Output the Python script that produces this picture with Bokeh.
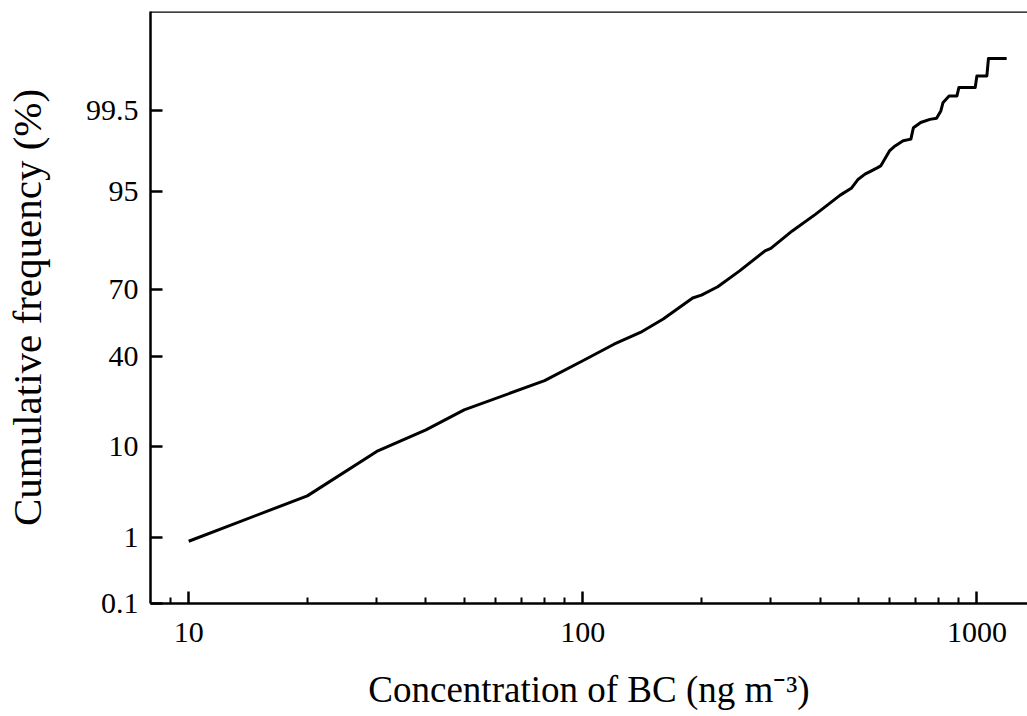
import math
from bokeh.plotting import figure
from bokeh.models import FixedTicker, Span, Range1d
from bokeh.embed import file_html
from bokeh.resources import INLINE

# ---- data (BC concentration bins, cumulative %) ----
conc = [10, 20, 30, 40, 50, 80, 100, 120, 140, 160,
        190, 200, 220, 250, 290, 300, 340, 390, 450, 480,
        500, 520, 540, 560, 570, 600, 620, 650, 680, 690,
        710, 720, 760, 790, 810, 820, 850, 890, 900, 990,
        1000, 1060, 1070, 1190]
cum_pct = [0.88, 3.2, 9.0, 13.7, 19.4, 29.9, 38.3, 45.7, 51.1, 57.2,
           66.4, 67.6, 71.0, 76.9, 83.3, 84.0, 88.4, 91.75, 94.6, 95.4,
           96.33, 96.77, 97.04, 97.28, 97.40, 98.28, 98.51, 98.72, 98.78, 99.14,
           99.23, 99.27, 99.34, 99.365, 99.5, 99.62, 99.70, 99.70, 99.777, 99.777,
           99.855, 99.855, 99.926, 99.926]

y_tick_pct = [0.1, 1, 10, 40, 70, 95, 99.5]
y_tick_labels = ["0.1", "1", "10", "40", "70", "95", "99.5"]
x_tick_vals = [10, 100, 1000]
x_tick_labels = ["10", "100", "1000"]

x_title = "Concentration of BC (ng m\u207b\u00b3)"
y_title = "Cumulative frequency (%)"


def norm_ppf(p):
    lo, hi = -10.0, 10.0
    for _ in range(200):
        mid = 0.5 * (lo + hi)
        if 0.5 * (1.0 + math.erf(mid / math.sqrt(2.0))) < p:
            lo = mid
        else:
            hi = mid
    return 0.5 * (lo + hi)


z_vals = [norm_ppf(v / 100.0) for v in cum_pct]
y_ticks = [round(norm_ppf(v / 100.0), 6) for v in y_tick_pct]

X_START, X_END = 8.0, 1344.0
Y_START, Y_END = norm_ppf(0.001), norm_ppf(0.9999)

W, H = 1027, 716
FONT = "Liberation Serif"

p = figure(width=W, height=H, x_axis_type="log",
           x_range=Range1d(X_START, X_END), y_range=Range1d(Y_START, Y_END),
           output_backend="svg", toolbar_location=None,
           min_border_left=148, min_border_right=0,
           min_border_top=11, min_border_bottom=113)

p.background_fill_color = "white"
p.border_fill_color = "white"
p.outline_line_color = None
p.grid.visible = False

minor = [9] + [m * 10 ** d for d in (1, 2) for m in range(2, 10)]
p.xaxis.ticker = FixedTicker(ticks=x_tick_vals, minor_ticks=minor)
p.xaxis.major_label_overrides = dict(zip(x_tick_vals, x_tick_labels))
p.yaxis.ticker = FixedTicker(ticks=y_ticks, minor_ticks=[])
p.yaxis.major_label_overrides = dict(zip(y_ticks, y_tick_labels))

for ax in (p.xaxis, p.yaxis):
    ax.axis_line_color = "black"
    ax.axis_line_width = 2.5
    ax.major_tick_line_color = "black"
    ax.major_tick_line_width = 2.5
    ax.major_tick_in = 12
    ax.major_tick_out = 0
    ax.minor_tick_line_color = "black"
    ax.minor_tick_line_width = 2
    ax.minor_tick_in = 6
    ax.minor_tick_out = 0
    ax.major_label_text_font = FONT
    ax.major_label_text_font_size = "30px"
    ax.major_label_text_color = "black"
    ax.axis_label_text_font = FONT
    ax.axis_label_text_font_style = "normal"
    ax.axis_label_text_color = "black"

p.yaxis.minor_tick_line_color = None
p.xaxis.major_label_standoff = 19
p.yaxis.major_label_standoff = 12

p.yaxis.axis_label = y_title
p.yaxis.axis_label_text_font_size = "41px"
p.yaxis.axis_label_standoff = 33

p.xaxis.axis_label = x_title
p.xaxis.axis_label_text_font_size = "37px"
p.xaxis.axis_label_standoff = 24

# top spine
p.add_layout(Span(location=Y_END, dimension="width", line_color="black", line_width=2.5))

# curve
p.line(conc, z_vals, line_color="black", line_width=3, line_join="round")

open("out.html", "w").write(file_html(p, INLINE))
